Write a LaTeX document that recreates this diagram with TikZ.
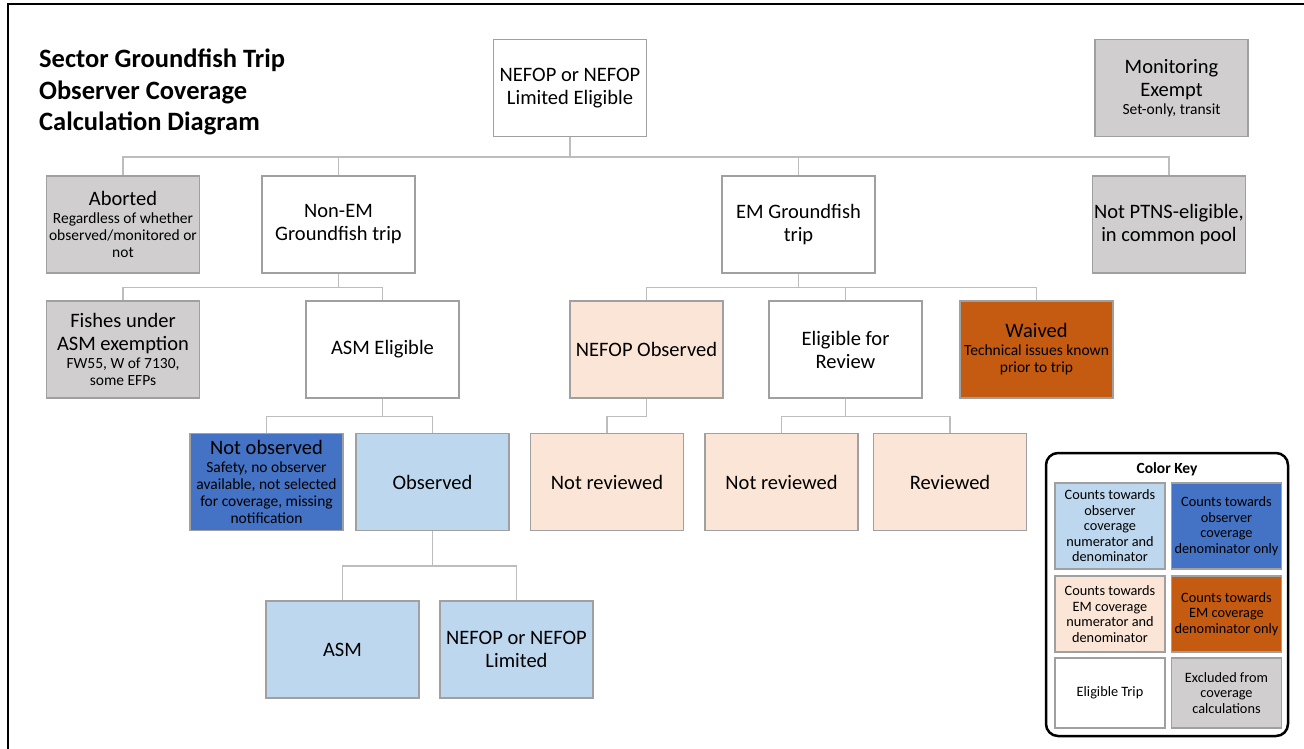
\documentclass[tikz,border=0pt]{standalone}
\usepackage{fontspec}
\setmainfont{Carlito}
\definecolor{exclgray}{HTML}{D0CECE}
\definecolor{emlight}{HTML}{FBE5D6}
\definecolor{obslight}{HTML}{BDD7EE}
\definecolor{obsdark}{HTML}{4472C4}
\definecolor{emdark}{HTML}{C55A11}
\definecolor{boxline}{HTML}{A0A0A0}
\definecolor{connline}{HTML}{BDBDBD}
\newcommand{\mainsz}{\fontsize{20.5}{23}\selectfont}
\newcommand{\subsz}{\fontsize{15.5}{17}\selectfont}
\newcommand{\keysz}{\fontsize{14.3}{15.5}\selectfont}

\begin{document}
\begin{tikzpicture}[x=1pt,y=-1pt,
    conn/.style={draw=connline,line width=1.5pt},
    box/.style={draw=boxline,line width=1.2pt,minimum width=153pt,minimum height=97pt,
      inner sep=1pt,align=center,font=\mainsz},
    elig node/.style={box,fill=white},
    excl node/.style={box,fill=exclgray},
    em node/.style={box,fill=emlight},
    emonly node/.style={box,fill=emdark},
    obs node/.style={box,fill=obslight},
    obsonly node/.style={box,fill=obsdark},
    key node/.style={draw=boxline,line width=1.2pt,minimum width=110pt,
      inner sep=1pt,align=center,font=\keysz}]
  \useasboundingbox (0,0) rectangle (1304,748);
  % frame (runs off the page at right and bottom)
  \draw[line width=2pt] (8,760) -- (8,4) -- (1312,4);

  \node[anchor=west,align=left,inner sep=0pt,font=\fontsize{26.5}{31.5}\selectfont\bfseries]
    (title) at (39,92) {Sector Groundfish Trip\\Observer Coverage\\Calculation Diagram};

  % top row
  \node[elig node] (root) at (570,88) {NEFOP or NEFOP\\Limited Eligible};
  \node[excl node] (exempt) at (1171.5,88) {Monitoring\\Exempt\\[-5pt]\subsz Set-only, transit};

  % trip type
  \node[excl node] (aborted) at (123,224.5)
    {Aborted\\[-5pt]\subsz Regardless of whether\\[-6pt]\subsz observed/monitored or\\[-6pt]\subsz not};
  \node[elig node] (nonem) at (338.5,224.5) {Non-EM\\Groundfish trip};
  \node[elig node] (emtrip) at (798.5,224.5) {EM Groundfish\\trip};
  \node[excl node] (ptns) at (1169,224.5) {Not PTNS-eligible,\\in common pool};

  % eligibility
  \node[excl node] (fishes) at (123,349.5)
    {Fishes under\\ASM exemption\\[-5pt]\subsz FW55, W of 7130,\\[-6pt]\subsz some EFPs};
  \node[elig node] (asmelig) at (382.5,349.5) {ASM Eligible};
  \node[em node] (nefopobs) at (646.5,349.5) {NEFOP Observed};
  \node[elig node] (elig) at (845.5,349.5) {Eligible for\\Review};
  \node[emonly node] (waived) at (1036.5,349.5)
    {Waived\\[-5pt]\subsz Technical issues known\\[-6pt]\subsz prior to trip};

  % outcome
  \node[obsonly node] (notobs) at (266.5,482)
    {Not observed\\[-5pt]\subsz Safety, no observer\\[-6pt]\subsz available, not selected\\[-6pt]\subsz for coverage, missing\\[-6pt]\subsz notification};
  \node[obs node] (observed) at (432.5,482) {Observed};
  \node[em node] (notrevA) at (607,482) {Not reviewed};
  \node[em node] (notrevB) at (781.5,482) {Not reviewed};
  \node[em node] (reviewed) at (950,482) {Reviewed};

  \node[obs node] (asm) at (342.5,649.5) {ASM};
  \node[obs node] (nefoplim) at (516.5,649.5) {NEFOP or NEFOP\\Limited};

  % connectors
  \foreach \c in {aborted,nonem,emtrip,ptns}
    \draw[conn] (root.south) -- ++(0,20) -| (\c.north);
  \foreach \c in {fishes,asmelig}
    \draw[conn] (nonem.south) -- ++(0,14) -| (\c.north);
  \foreach \c in {nefopobs,elig,waived}
    \draw[conn] (emtrip.south) -- ++(0,14) -| (\c.north);
  \foreach \c in {notobs,observed}
    \draw[conn] (asmelig.south) -- ++(0,18) -| (\c.north);
  \draw[conn] (nefopobs.south) -- ++(0,18) -| (notrevA.north);
  \foreach \c in {notrevB,reviewed}
    \draw[conn] (elig.south) -- ++(0,18) -| (\c.north);
  \foreach \c in {asm,nefoplim}
    \draw[conn] (observed.south) -- ++(0,35) -| (\c.north);

  % color key
  \node[draw=black,line width=2.5pt,rounded corners=12pt,minimum width=242pt,minimum height=283pt]
    (keyframe) at (1167,594.5) {};
  \node[font=\fontsize{15.5}{17}\selectfont\bfseries] (keytitle) at (1167,469) {Color Key};
  \node[key node,fill=obslight,minimum height=86pt] (keyobs) at (1110,526)
    {Counts towards\\observer\\coverage\\numerator and\\denominator};
  \node[key node,fill=obsdark,minimum height=86pt] (keyobsonly) at (1226.5,526)
    {Counts towards\\observer\\coverage\\denominator only};
  \node[key node,fill=emlight,minimum height=76pt] (keyem) at (1110,614)
    {Counts towards\\EM coverage\\numerator and\\denominator};
  \node[key node,fill=emdark,minimum height=76pt] (keyemonly) at (1226.5,614)
    {Counts towards\\EM coverage\\denominator only};
  \node[key node,fill=white,minimum height=70pt] (keyelig) at (1110,693) {Eligible Trip};
  \node[key node,fill=exclgray,minimum height=70pt] (keyexcl) at (1226.5,693)
    {Excluded from\\coverage\\calculations};
\end{tikzpicture}
\end{document}
